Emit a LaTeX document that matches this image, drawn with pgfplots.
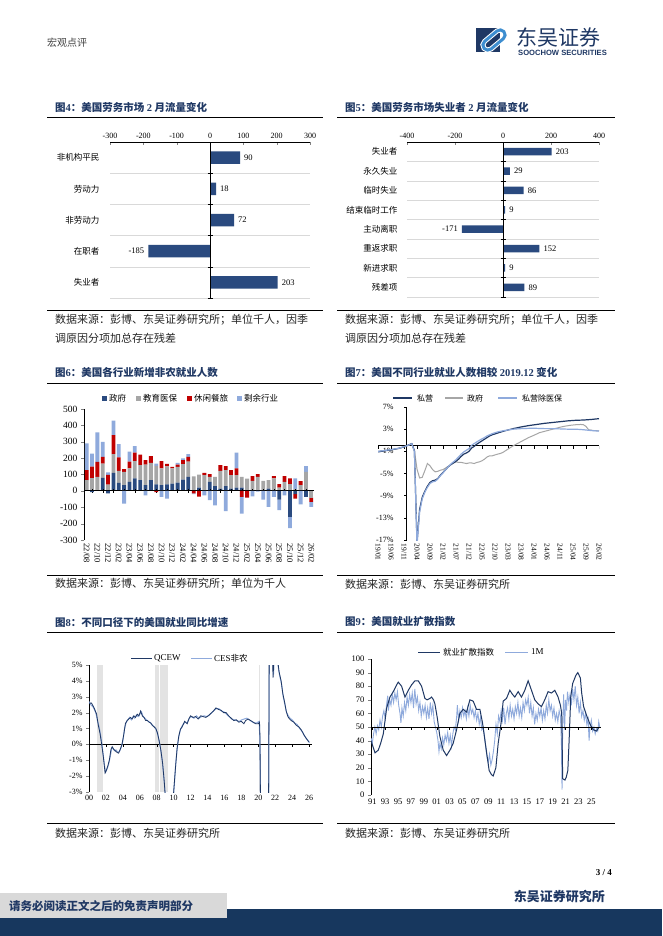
\documentclass[border=0pt]{standalone}
\usepackage{fontspec}
\setmainfont{Liberation Serif}
\newfontfamily\cjk{Noto Sans CJK SC}
\newfontfamily\lsans{Liberation Sans}
\usepackage{pgfplots}
\pgfplotsset{compat=1.18}
\usepackage{pgfplotstable}

\definecolor{navy}{HTML}{1F3864}
\definecolor{barblue}{HTML}{2A4A7F}
\definecolor{lblue}{HTML}{8FAADC}
\definecolor{dred}{HTML}{C00000}
\definecolor{mgray}{HTML}{A6A6A6}
\definecolor{gridc}{HTML}{D9D9D9}
\definecolor{footnavy}{HTML}{17375E}
\definecolor{boxgray}{HTML}{D9D9D9}
\definecolor{recgray}{HTML}{E3E3E3}
\definecolor{logoblue}{HTML}{3E8ED0}

\pgfplotsset{every axis/.append style={scale only axis,
  /pgf/number format/assume math mode=true,
  tick label style={font=\fontsize{8}{9}\selectfont},
  major tick length=3pt}}

% 美国各行业新增非农就业（千人）：政府、教育医保、休闲餐旅、剩余行业
\pgfplotstableread{
i gov edu leis oth
1 0 65 62 163
2 -8 78 70 80
3 0 86 91 180
4 80 87 41 92
5 -15 38 60 15
6 110 114 116 89
7 49 73 82 82
8 35 81 17 -78
9 55 82 41 61
10 76 106 51 40
11 65 92 65 0
12 35 126 27 -27
13 65 106 41 0
14 40 112 -8 14
15 35 102 45 -37
16 40 110 15 -47
17 45 92 10 0
18 51 96 14 10
19 69 94 25 10
20 86 92 30 16
21 5 83 -15 -5
22 20 80 -35 0
23 5 91 14 -27
24 55 31 16 -57
25 29 57 0 -88
26 14 108 35 0
27 29 98 24 -124
28 14 82 31 0
29 20 76 41 96
30 20 66 -37 -102
31 0 75 -41 0
32 0 61 29 -33
33 0 86 16 -5
34 5 56 0 -53
35 14 51 0 -98
36 0 76 14 -37
37 -53 20 21 -65
38 0 55 35 -27
39 -159 41 35 -68
40 -20 10 -27 66
41 0 35 24 -82
42 -37 116 0 35
43 0 -41 -26 -31
}\sectab

\newcommand\ttl[3]{\node[anchor=west,inner sep=0,text=navy,font=\cjk\bfseries\fontsize{10.5}{12}\selectfont] at (#1,#2) {#3};}
\newcommand\src[3]{\node[anchor=west,inner sep=0,text=black!85,font=\cjk\fontsize{11}{12}\selectfont] at (#1,#2) {#3};}

\begin{document}
\begin{tikzpicture}[x=1pt,y=-1pt]
\path[use as bounding box] (0,0) rectangle (662,936);
\fill[white] (0,0) rectangle (662,936);

% header
\node[anchor=west,inner sep=0,text=black!75,font=\cjk\fontsize{10}{11}\selectfont] at (47,43) {宏观点评};
\fill[navy] (476,28) rectangle (500,52);
\draw[white,line width=5pt,rounded corners=5pt,rotate around={40:(494,40)}] (481,35) rectangle (507,45);
\draw[logoblue,line width=3pt,rounded corners=5pt,rotate around={40:(494,40)}] (481,35) rectangle (507,45);
\node[anchor=west,inner sep=0,text=navy,font=\cjk\fontsize{21}{22}\selectfont] at (516,37) {东吴证券};
\node[anchor=west,inner sep=0,text=navy,font=\lsans\bfseries\fontsize{7.6}{8}\selectfont] at (518,53) {SOOCHOW SECURITIES};

% titles, rules, sources
\ttl{55}{107}{图{\rmfamily 4}：美国劳务市场 {\rmfamily 2} 月流量变化}
\ttl{345}{107}{图{\rmfamily 5}：美国劳务市场失业者 {\rmfamily 2} 月流量变化}
\ttl{55}{372}{图{\rmfamily 6}：美国各行业新增非农就业人数}
\ttl{345}{372}{图{\rmfamily 7}：美国不同行业就业人数相较 {\rmfamily 2019.12} 变化}
\ttl{55}{622}{图{\rmfamily 8}：不同口径下的美国就业同比增速}
\ttl{345}{622}{图{\rmfamily 9}：美国就业扩散指数}
\foreach \yy in {117,310,383,575,632,823}{
  \draw[line width=0.9pt] (47,\yy) -- (323,\yy);
  \draw[line width=0.9pt] (337,\yy) -- (615,\yy);
}
\src{55}{320}{数据来源：彭博、东吴证券研究所；单位千人，因季}
\src{55}{338}{调原因分项加总存在残差}
\src{345}{320}{数据来源：彭博、东吴证券研究所；单位千人，因季}
\src{345}{338}{调原因分项加总存在残差}
\src{55}{584}{数据来源：彭博、东吴证券研究所；单位为千人}
\src{345}{584}{数据来源：彭博、东吴证券研究所}
\src{55}{833}{数据来源：彭博、东吴证券研究所}
\src{345}{833}{数据来源：彭博、东吴证券研究所}

% ---------- 图4 ----------
\begin{axis}[at={(110pt,-298pt)},anchor=south west,width=200pt,height=156pt,
  xbar,bar width=12.5pt,xmin=-300,xmax=300,ymin=0.5,ymax=5.5,
  axis x line*=top,axis y line*=left,
  y axis line style={draw=none},ytick style={draw=none},
  xtick={-300,-200,...,300},xtick align=inside,
  ytick={1,2,3,4,5},yticklabels={失业者,在职者,非劳动力,劳动力,非机构平民},
  yticklabel style={font=\cjk\fontsize{8.5}{9}\selectfont,xshift=-4pt},
  nodes near coords,
  every node near coord/.append style={font=\fontsize{8.5}{9}\selectfont,inner sep=4pt,text=black},
  clip=false]
\pgfplotsinvokeforeach{0.5,1.5,2.5,3.5,4.5}{\draw[gridc] (axis cs:-300,#1) -- (axis cs:300,#1);}
\addplot[fill=barblue,draw=none] coordinates {(203,1) (-185,2) (72,3) (18,4) (90,5)};
\draw[line width=0.8pt] (axis cs:0,0.5) -- (axis cs:0,5.5);
\pgfplotsinvokeforeach{0.5,1.5,2.5,3.5,4.5}{\draw (axis cs:0,#1) ++(-2.5pt,0pt) -- ++(5pt,0pt);}
\end{axis}

% ---------- 图5 ----------
\begin{axis}[at={(407pt,-297pt)},anchor=south west,width=192pt,height=155pt,
  xbar,bar width=7.5pt,xmin=-400,xmax=400,ymin=0.5,ymax=8.5,
  axis x line*=top,axis y line*=left,
  y axis line style={draw=none},ytick style={draw=none},
  xtick={-400,-200,...,400},xtick align=inside,
  ytick={1,...,8},yticklabels={残差项,新进求职,重返求职,主动离职,结束临时工作,临时失业,永久失业,失业者},
  yticklabel style={font=\cjk\fontsize{8.5}{9}\selectfont,xshift=-3pt},
  nodes near coords,
  every node near coord/.append style={font=\fontsize{8.5}{9}\selectfont,inner sep=4pt,text=black},
  clip=false]
\pgfplotsinvokeforeach{0.5,1.5,2.5,3.5,4.5,5.5,6.5,7.5}{\draw[gridc] (axis cs:-400,#1) -- (axis cs:400,#1);}
\addplot[fill=barblue,draw=none] coordinates {(89,1) (9,2) (152,3) (-171,4) (9,5) (86,6) (29,7) (203,8)};
\draw[line width=0.8pt] (axis cs:0,0.5) -- (axis cs:0,8.5);
\pgfplotsinvokeforeach{0.5,1.5,2.5,3.5,4.5,5.5,6.5,7.5}{\draw (axis cs:0,#1) ++(-2.5pt,0pt) -- ++(5pt,0pt);}
\end{axis}

% ---------- 图6 ----------
\fill[barblue] (102,395.5) rectangle +(5,5);
\node[anchor=west,inner sep=0,font=\cjk\fontsize{8.5}{9}\selectfont] at (109,398) {政府};
\fill[mgray] (136,395.5) rectangle +(5,5);
\node[anchor=west,inner sep=0,font=\cjk\fontsize{8.5}{9}\selectfont] at (143,398) {教育医保};
\fill[dred] (187,395.5) rectangle +(5,5);
\node[anchor=west,inner sep=0,font=\cjk\fontsize{8.5}{9}\selectfont] at (194,398) {休闲餐旅};
\fill[lblue] (237,395.5) rectangle +(5,5);
\node[anchor=west,inner sep=0,font=\cjk\fontsize{8.5}{9}\selectfont] at (244,398) {剩余行业};
\begin{axis}[at={(84pt,-540pt)},anchor=south west,width=230pt,height=131pt,
  ybar stacked,bar width=3.8pt,xmin=0.5,xmax=43.5,ymin=-300,ymax=500,
  axis x line*=bottom,axis y line*=left,
  x axis line style={draw=none},xtick style={draw=none},
  ytick={-300,-200,...,500},ytick align=outside,
  yticklabel style={font=\fontsize{9.5}{10}\selectfont},
  xtick={1,3,...,43},
  xticklabels={22/08,22/10,22/12,23/02,23/04,23/06,23/08,23/10,23/12,24/02,24/04,24/06,24/08,24/10,24/12,25/02,25/04,25/06,25/08,25/10,25/12,26/02},
  xticklabel style={rotate=-90,anchor=west,font=\fontsize{8.5}{9}\selectfont}]
\addplot[fill=barblue,draw=none] table[x=i,y expr={max(\thisrow{gov},0)}] \sectab;
\addplot[fill=mgray,draw=none] table[x=i,y expr={max(\thisrow{edu},0)}] \sectab;
\addplot[fill=dred,draw=none] table[x=i,y expr={max(\thisrow{leis},0)}] \sectab;
\addplot[fill=lblue,draw=none] table[x=i,y expr={max(\thisrow{oth},0)}] \sectab;
\end{axis}
\begin{axis}[at={(84pt,-540pt)},anchor=south west,width=230pt,height=131pt,
  ybar stacked,bar width=3.8pt,xmin=0.5,xmax=43.5,ymin=-300,ymax=500,hide axis]
\addplot[fill=barblue,draw=none] table[x=i,y expr={min(\thisrow{gov},0)}] \sectab;
\addplot[fill=mgray,draw=none] table[x=i,y expr={min(\thisrow{edu},0)}] \sectab;
\addplot[fill=dred,draw=none] table[x=i,y expr={min(\thisrow{leis},0)}] \sectab;
\addplot[fill=lblue,draw=none] table[x=i,y expr={min(\thisrow{oth},0)}] \sectab;
\draw[line width=0.8pt] (axis cs:0.5,0) -- (axis cs:43.5,0);
\pgfplotsinvokeforeach{2,4,...,42}{\draw (axis cs:#1,0) ++(0pt,2pt) -- ++(0pt,-4pt);}
\end{axis}

% ---------- 图7 ----------
\draw[navy,line width=1.2pt] (393,398) -- (412,398);
\node[anchor=west,inner sep=0,font=\cjk\fontsize{8}{9}\selectfont] at (417,398) {私营};
\draw[mgray,line width=1.2pt] (445,398) -- (463,398);
\node[anchor=west,inner sep=0,font=\cjk\fontsize{8}{9}\selectfont] at (467,398) {政府};
\draw[lblue,line width=1.2pt] (498,398) -- (517,398);
\node[anchor=west,inner sep=0,font=\cjk\fontsize{8}{9}\selectfont] at (522,398) {私营除医保};
\begin{axis}[at={(378pt,-540pt)},anchor=south west,width=221pt,height=133pt,
  xmin=0,xmax=85,ymin=-17,ymax=7,
  axis line style={draw=none},tick style={draw=none},
  ytick={-17,-13,...,7},yticklabel={\pgfmathprintnumber{\tick}\%},
  yticklabel style={xshift=19pt,font=\fontsize{8}{9}\selectfont},
  xtick={0,5,...,85},
  xticklabels={19/01,19/06,19/11,20/04,20/09,21/02,21/07,21/12,22/05,22/10,23/03,23/08,24/01,24/06,24/11,25/04,25/09,26/02},
  xticklabel style={rotate=-90,anchor=west,font=\fontsize{7.5}{8}\selectfont}]
\draw[line width=0.8pt] (axis cs:11,-17) -- (axis cs:11,7);
\pgfplotsinvokeforeach{-17,-13,...,7}{\draw (axis cs:11,#1) -- ++(-3pt,0pt);}
\draw[line width=0.8pt] (axis cs:0,0) -- (axis cs:85,0);
\pgfplotsinvokeforeach{0,5,...,85}{\draw (axis cs:#1,0) -- ++(0pt,-3pt);}
\addplot[mgray,line width=1pt] coordinates {(0,-1.0) (4,-0.8) (8,-0.5) (11,0) (13,0.3) (14,-0.8) (15,-4.2) (16,-5.8) (17,-5.7) (18,-4.5) (19,-3.2) (20,-3.6) (21,-4.3) (22,-4.7) (23,-4.6) (24,-4.4) (25,-4.3) (26,-4.0) (27,-3.7) (28,-3.4) (29,-3.1) (30,-2.9) (31,-3.0) (32,-3.0) (33,-3.1) (34,-3.2) (35,-3.1) (36,-3.1) (37,-3.2) (38,-3.0) (39,-2.9) (40,-2.7) (41,-2.4) (42,-2.0) (43,-1.8) (44,-1.8) (45,-1.65) (46,-1.5) (47,-1.4) (48,-1.2) (50,-0.6) (52,0.0) (54,0.5) (56,1.0) (58,1.5) (60,1.9) (62,2.35) (64,2.6) (66,2.85) (68,3.1) (70,3.35) (72,3.55) (74,3.7) (76,3.8) (78,3.85) (79,3.8) (80,3.5) (81,2.9) (83,2.75) (85,2.7)};
\addplot[navy,line width=1.2pt] coordinates {(0,-1.1) (2,-0.95) (4,-0.8) (6,-0.65) (8,-0.45) (10,-0.2) (11,0) (12,0.2) (13,0.4) (14,-0.9) (15,-17.4) (16,-11.5) (17,-9.3) (18,-8.2) (19,-7.3) (20,-6.6) (21,-6.3) (22,-6.2) (23,-5.9) (24,-5.3) (25,-4.8) (26,-4.3) (27,-3.8) (28,-3.4) (29,-3.1) (30,-2.8) (31,-2.4) (32,-1.9) (33,-1.5) (34,-1.3) (35,-1.0) (36,-0.4) (37,-0.1) (38,0.3) (39,0.6) (40,0.9) (41,1.2) (42,1.5) (43,1.8) (44,2.0) (45,2.15) (46,2.3) (47,2.45) (48,2.6) (50,2.85) (52,3.1) (55,3.4) (58,3.65) (61,3.85) (64,4.05) (67,4.2) (70,4.35) (73,4.5) (76,4.6) (79,4.65) (82,4.75) (85,4.9)};
\addplot[lblue,line width=1.2pt] coordinates {(0,-1.0) (4,-0.75) (8,-0.45) (11,0) (13,0.35) (14,-1.0) (15,-17.9) (16,-12) (17,-9.6) (18,-8.4) (19,-7.5) (20,-6.8) (21,-6.5) (22,-6.4) (23,-6.0) (24,-5.4) (25,-4.9) (26,-4.3) (27,-3.8) (28,-3.3) (29,-2.9) (30,-2.5) (31,-2.0) (32,-1.5) (33,-1.1) (34,-0.8) (35,-0.5) (36,0.1) (37,0.4) (38,0.7) (39,1.0) (40,1.25) (41,1.5) (42,1.8) (43,2.0) (44,2.2) (45,2.35) (46,2.5) (47,2.6) (48,2.7) (50,2.85) (52,3.0) (55,3.1) (58,3.15) (61,3.15) (64,3.1) (67,3.1) (70,3.05) (73,3.0) (76,3.0) (79,2.9) (82,2.75) (85,2.65)};
\end{axis}

% ---------- 图8 (x = 年份 - 2000) ----------
\draw[navy,line width=1pt] (131,658) -- (152,658);
\node[anchor=west,inner sep=0,font=\fontsize{9}{10}\selectfont] at (154,658) {QCEW};
\draw[lblue,line width=1pt] (191,658) -- (212,658);
\node[anchor=west,inner sep=0,font=\fontsize{9}{10}\selectfont] at (214,658) {CES{\cjk\fontsize{8.5}{9}\selectfont 非农}};
\begin{axis}[at={(89pt,-792pt)},anchor=south west,width=223pt,height=127pt,
  xmin=0,xmax=26.35,ymin=-3,ymax=5,
  axis x line*=bottom,axis y line*=left,
  x axis line style={draw=none},xtick style={draw=none},
  ytick={-3,...,5},yticklabel={\pgfmathprintnumber{\tick}\%},ytick align=outside,
  xtick={0,2,...,26},xticklabels={00,02,04,06,08,10,12,14,16,18,20,22,24,26},
  tick label style={font=\fontsize{8}{9}\selectfont}]
\fill[recgray] (axis cs:0.9,-3) rectangle (axis cs:1.65,5);
\fill[recgray] (axis cs:7.77,-3) rectangle (axis cs:8.24,5);
\fill[recgray] (axis cs:8.36,-3) rectangle (axis cs:8.83,5);
\fill[recgray] (axis cs:8.9,-3) rectangle (axis cs:9.33,5);
\fill[recgray] (axis cs:20.05,-3) rectangle (axis cs:20.22,5);
\draw[line width=0.8pt] (axis cs:0,0) -- (axis cs:26.35,0);
\pgfplotsinvokeforeach{2,4,...,26}{\draw (axis cs:#1,0) -- ++(0pt,-3pt);}
\addplot[lblue,line width=1pt] coordinates {(0.0,2.7) (0.2,2.5) (0.5,2.35) (0.8,2.0) (1.0,1.5) (1.2,1.1) (1.4,0.5) (1.6,-0.3) (1.8,-1.2) (1.95,-1.75) (2.1,-1.6) (2.3,-1.3) (2.5,-0.8) (2.7,-0.2) (2.85,-0.25) (3.0,-0.4) (3.2,-0.35) (3.4,-0.5) (3.6,-0.45) (3.8,-0.2) (4.0,0.2) (4.2,1.0) (4.4,1.4) (4.6,1.55) (4.8,1.7) (5.0,1.55) (5.2,1.75) (5.4,1.65) (5.6,1.85) (5.8,1.75) (6.0,1.9) (6.2,2.05) (6.4,1.75) (6.6,1.65) (6.8,1.55) (7.0,1.45) (7.2,1.4) (7.4,1.25) (7.6,1.15) (7.8,1.05) (8.0,0.85) (8.2,0.45) (8.4,-0.1) (8.6,-0.8) (8.8,-1.8) (9.0,-3.1) (9.3,-4.4) (9.6,-4.8) (9.9,-3.7) (10.05,-2.8) (10.25,-1.2) (10.45,-0.1) (10.65,0.6) (10.85,1.0) (11.1,1.25) (11.35,1.4) (11.6,1.35) (11.85,1.65) (12.1,1.75) (12.4,1.65) (12.7,1.8) (13.0,1.65) (13.3,1.75) (13.6,1.8) (13.9,1.75) (14.2,1.85) (14.5,2.0) (14.8,2.15) (15.05,2.25) (15.35,2.25) (15.65,2.1) (15.95,2.05) (16.25,1.9) (16.55,1.75) (16.85,1.6) (17.15,1.55) (17.45,1.5) (17.75,1.45) (18.05,1.55) (18.35,1.6) (18.65,1.65) (18.9,1.55) (19.2,1.45) (19.5,1.35) (19.8,1.35) (20.1,1.45) (20.2,0.2) (20.32,-6) (21.22,-5) (21.32,7) (21.6,6.5) (21.8,4.4) (21.9,5.4) (22.3,5.1) (22.5,4.4) (22.75,3.8) (22.95,3.0) (23.15,2.5) (23.35,2.0) (23.55,1.8) (23.75,1.65) (24.0,1.55) (24.3,1.35) (24.6,1.25) (24.9,1.0) (25.2,0.8) (25.5,0.5) (25.8,0.3) (26.05,0.1)};
\addplot[navy,line width=0.8pt] coordinates {(0.0,2.6) (0.3,2.6) (0.6,2.3) (0.9,1.9) (1.1,1.2) (1.3,0.7) (1.5,0.0) (1.7,-0.8) (1.9,-1.8) (2.0,-1.7) (2.2,-1.4) (2.4,-1.0) (2.6,-0.3) (2.75,-0.15) (2.9,-0.3) (3.1,-0.4) (3.3,-0.5) (3.5,-0.55) (3.7,-0.3) (3.9,0.0) (4.1,0.6) (4.3,1.3) (4.5,1.5) (4.7,1.6) (4.9,1.7) (5.1,1.6) (5.3,1.8) (5.5,1.7) (5.7,1.9) (5.9,1.8) (6.1,2.1) (6.3,1.8) (6.5,1.7) (6.7,1.5) (6.9,1.5) (7.1,1.4) (7.3,1.35) (7.5,1.2) (7.7,1.1) (7.9,1.0) (8.1,0.7) (8.3,0.2) (8.5,-0.4) (8.7,-1.2) (8.9,-2.4) (9.0,-3.2) (9.3,-4.3) (9.6,-4.7) (9.9,-3.8) (10.0,-3.0) (10.2,-1.6) (10.4,-0.3) (10.6,0.5) (10.8,0.95) (11.0,1.1) (11.3,1.45) (11.6,1.3) (11.8,1.6) (12.0,1.8) (12.3,1.7) (12.6,1.75) (12.9,1.6) (13.2,1.8) (13.5,1.75) (13.8,1.7) (14.1,1.8) (14.4,1.95) (14.7,2.1) (15.0,2.3) (15.3,2.2) (15.6,2.15) (15.9,2.0) (16.2,2.0) (16.5,1.8) (16.8,1.65) (17.1,1.5) (17.4,1.55) (17.7,1.4) (18.0,1.45) (18.3,1.3) (18.5,1.5) (18.8,1.6) (19.1,1.5) (19.4,1.4) (19.7,1.3) (20.0,1.3) (20.15,1.4) (20.2,0.5) (20.3,-6) (21.2,-6) (21.3,7) (21.6,7) (21.75,4.2) (21.85,5.5) (22.3,5.3) (22.45,4.6) (22.7,4.0) (22.9,3.2) (23.1,2.7) (23.3,2.1) (23.5,1.75) (23.7,1.6) (23.9,1.5) (24.2,1.4) (24.5,1.2) (24.8,1.1) (25.1,0.9) (25.4,0.6) (25.7,0.35) (26.0,0.15)};
\end{axis}

% ---------- 图9 (x = 年份 - 1990) ----------
\draw[navy,line width=1pt] (418,652) -- (440,652);
\node[anchor=west,inner sep=0,font=\cjk\fontsize{8.5}{9}\selectfont] at (443,652) {就业扩散指数};
\draw[lblue,line width=1pt] (505,652) -- (528,652);
\node[anchor=west,inner sep=0,font=\fontsize{9}{10}\selectfont] at (531,652) {1M};
\begin{axis}[at={(371pt,-795pt)},anchor=south west,width=230pt,height=136pt,
  xmin=0.8,xmax=36.5,ymin=0,ymax=100,
  axis x line*=bottom,axis y line*=left,
  x axis line style={draw=none},xtick style={draw=none},
  ytick={0,10,...,100},ytick align=outside,
  xtick={1,3,...,35},xticklabels={91,93,95,97,99,01,03,05,07,09,11,13,15,17,19,21,23,25},
  tick label style={font=\fontsize{8.5}{9}\selectfont}]
\addplot[lblue,line width=0.9pt] coordinates {(0.8,42) (1.0,38) (1.2,45) (1.4,50) (1.6,45) (1.8,51) (2.0,48) (2.2,55) (2.4,50) (2.6,58) (2.8,62) (3.0,56) (3.2,66) (3.4,73) (3.5,62) (3.7,70) (3.9,66) (4.1,74) (4.3,68) (4.5,75) (4.7,70) (4.9,76) (5.1,66) (5.3,60) (5.45,53) (5.6,64) (5.8,58) (6.0,68) (6.2,62) (6.4,72) (6.6,66) (6.8,74) (7.0,68) (7.2,75) (7.4,64) (7.6,78) (7.8,67) (8.0,72) (8.2,62) (8.4,68) (8.6,58) (8.8,65) (9.0,60) (9.2,66) (9.4,57) (9.6,64) (9.8,56) (10.0,68) (10.2,60) (10.4,66) (10.6,54) (10.8,50) (11.0,46) (11.2,40) (11.35,32) (11.5,38) (11.7,34) (11.9,42) (12.1,37) (12.3,44) (12.5,40) (12.7,46) (12.9,38) (13.1,44) (13.3,36) (13.5,45) (13.7,50) (13.9,48) (14.1,58) (14.2,66) (14.4,55) (14.6,62) (14.8,57) (15.0,64) (15.2,58) (15.4,62) (15.6,56) (15.8,64) (16.0,58) (16.2,66) (16.4,60) (16.6,63) (16.8,57) (17.0,62) (17.2,55) (17.4,60) (17.6,52) (17.8,57) (18.0,48) (18.2,50) (18.4,44) (18.6,36) (18.8,28) (19.0,24) (19.2,30) (19.4,22) (19.6,26) (19.8,32) (20.0,40) (20.2,52) (20.4,45) (20.6,58) (20.8,54) (21.0,62) (21.2,55) (21.4,64) (21.6,52) (21.8,60) (22.0,64) (22.2,56) (22.4,66) (22.6,58) (22.8,63) (23.0,56) (23.2,65) (23.4,60) (23.6,68) (23.8,58) (24.0,64) (24.2,57) (24.4,68) (24.6,62) (24.8,70) (25.0,66) (25.2,72) (25.4,60) (25.6,68) (25.8,58) (26.0,64) (26.2,52) (26.4,60) (26.6,55) (26.8,63) (27.0,58) (27.2,64) (27.4,55) (27.6,62) (27.8,56) (28.0,66) (28.2,60) (28.4,70) (28.6,62) (28.8,66) (29.0,58) (29.2,64) (29.4,55) (29.6,60) (29.8,54) (30.0,62) (30.2,58) (30.35,40) (30.45,4) (30.55,50) (30.7,74) (30.85,48) (31.0,70) (31.15,62) (31.3,76) (31.5,68) (31.7,74) (31.9,66) (32.1,78) (32.3,70) (32.5,80) (32.7,66) (32.9,72) (33.1,60) (33.3,68) (33.5,58) (33.7,62) (33.9,55) (34.1,60) (34.3,52) (34.5,56) (34.65,40) (34.8,50) (35.0,55) (35.2,47) (35.4,50) (35.6,45) (35.8,49) (36.0,47) (36.15,54) (36.3,50)};
\addplot[navy,line width=1pt] coordinates {(0.8,40) (1.42,31) (1.93,33) (2.3,38) (2.71,45) (3.23,64) (3.74,72) (4.26,76) (4.78,81) (5.03,83) (5.55,80) (6.07,72) (6.59,77) (7.1,81) (7.62,84) (8.13,84) (8.65,80) (9.17,71) (9.5,70) (9.94,71) (10.2,72) (10.5,70) (10.72,67) (11.08,57) (11.49,43) (12.01,33) (12.53,29) (13.05,33) (13.56,38) (14.08,48) (14.6,60) (15.11,63) (15.63,61) (16.15,70) (16.66,69) (17.18,63) (17.7,63) (18.11,53) (18.63,35) (19.14,18) (19.5,15) (19.76,14) (20.18,20) (20.54,38) (21.05,55) (21.31,69) (21.83,71) (22.35,77) (22.76,74) (23.12,72) (23.64,76) (24.15,72) (24.67,77) (25.19,84) (25.71,77) (26.22,70) (26.74,67) (27.26,65) (27.77,70) (28.29,76) (28.81,75) (29.33,77) (29.84,72) (30.2,66) (30.4,60) (30.55,12) (30.9,11) (31.1,13) (31.35,18) (31.55,40) (31.8,72) (32.1,82) (32.6,88) (32.9,90) (33.3,86) (33.5,75) (33.8,65) (34.3,58) (34.8,52) (35.3,48) (35.8,47) (36.2,50)};
\draw[line width=0.8pt] (axis cs:0.8,50) -- (axis cs:36.5,50);
\pgfplotsinvokeforeach{1,3,...,35}{\draw (axis cs:#1,50) -- ++(0pt,-3pt);}
\end{axis}

% footer
\node[anchor=east,inner sep=0,font=\bfseries\fontsize{9}{10}\selectfont] at (612,873) {3 / 4};
\node[anchor=east,inner sep=0,text=navy,font=\cjk\bfseries\fontsize{13}{14}\selectfont] at (605,897) {东吴证券研究所};
\fill[footnavy] (0,909) rectangle (662,936);
\fill[boxgray] (0,893) rectangle (227,918);
\node[anchor=west,inner sep=0,text=navy,font=\cjk\bfseries\fontsize{11.5}{12}\selectfont] at (9,906) {请务必阅读正文之后的免责声明部分};
\end{tikzpicture}
\end{document}
